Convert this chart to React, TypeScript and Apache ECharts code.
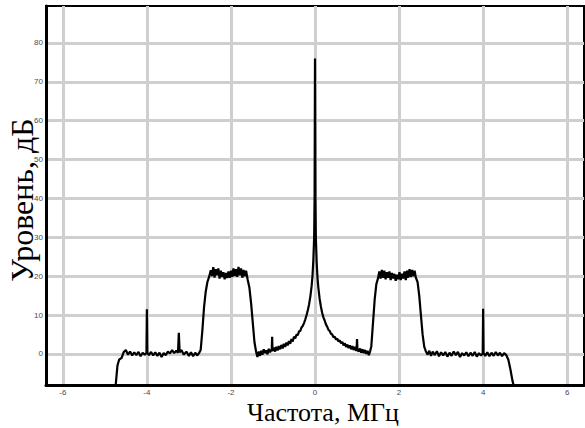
import React, { useEffect, useRef } from "react";
import * as echarts from "echarts";

// Spectrum segments: [frequency MHz, level dB]
const leftFloor: [number, number][] = [
  [-4.75, -9], [-4.7, -3], [-4.66, -1.5], [-4.6, -1], [-4.55, 0.5], [-4.5, 1], [-4.45, -0.2], [-4.4, 0.6],
  [-4.35, -0.4], [-4.3, 0.4], [-4.25, -0.3], [-4.2, 0.5], [-4.15, -0.6], [-4.1, 0.3], [-4.05, -0.2],
  [-4.01, 0.2], [-4.0, 11.5], [-3.99, 0.3], [-3.95, -0.3], [-3.9, 0.5], [-3.85, -0.4], [-3.8, 0.4],
  [-3.75, -0.5], [-3.7, 0.3], [-3.65, -0.8], [-3.6, 0.2], [-3.55, -0.3], [-3.5, 0.6], [-3.45, 0.1],
  [-3.4, 1.0], [-3.35, 0.2], [-3.3, 0.8], [-3.26, 0.3], [-3.24, 5.4], [-3.22, 0.4], [-3.18, 1.0],
  [-3.12, -0.2], [-3.06, 0.6], [-3.0, -0.5], [-2.95, 0.4], [-2.9, -0.6], [-2.85, 0.3], [-2.8, -0.4],
  [-2.76, 0.2], [-2.72, 1],
];

const leftBand: [number, number][] = [
  [-2.68, 6], [-2.64, 12], [-2.6, 16], [-2.56, 18.5], [-2.52, 19.8], [-2.48, 21.5], [-2.45, 20],
  [-2.42, 22.3], [-2.39, 19.6], [-2.36, 21.8], [-2.33, 20.2], [-2.3, 22], [-2.27, 19.4], [-2.24, 21.4],
  [-2.21, 19.8], [-2.18, 21], [-2.15, 19.2], [-2.12, 20.8], [-2.09, 19.5], [-2.06, 21.2], [-2.03, 19.6],
  [-2.0, 21.4], [-1.97, 19.8], [-1.94, 22], [-1.91, 20], [-1.88, 21.8], [-1.85, 19.8], [-1.82, 22.4],
  [-1.79, 20.2], [-1.76, 22], [-1.73, 19.6], [-1.7, 21.6], [-1.67, 20], [-1.64, 21.4], [-1.6, 19],
  [-1.56, 17], [-1.52, 13], [-1.48, 8], [-1.44, 3], [-1.4, 0.5],
];

const centerPeak: [number, number][] = [
  [-1.37, -0.8], [-1.34, 0.6], [-1.31, -0.5], [-1.28, 0.8], [-1.25, -0.2], [-1.22, 1.2], [-1.19, 0.2],
  [-1.16, 0.9], [-1.13, -0.1], [-1.1, 1.3], [-1.07, 0.4], [-1.04, 1.0], [-1.03, 0.6], [-1.02, 4.4],
  [-1.01, 0.8], [-0.98, 1.6], [-0.95, 0.6], [-0.92, 1.8], [-0.89, 0.9], [-0.86, 2.0], [-0.83, 1.2],
  [-0.8, 2.3], [-0.77, 1.4], [-0.74, 2.6], [-0.71, 1.8], [-0.68, 2.9], [-0.65, 2.2], [-0.62, 3.3],
  [-0.59, 2.6], [-0.56, 3.8], [-0.53, 3.2], [-0.5, 4.4], [-0.47, 4.0], [-0.44, 5.0], [-0.41, 4.8],
  [-0.38, 5.8], [-0.35, 5.9], [-0.32, 6.8], [-0.29, 7.2], [-0.26, 8.0], [-0.23, 8.9], [-0.2, 10],
  [-0.17, 11.3], [-0.14, 12.8], [-0.11, 14.8], [-0.08, 17.5], [-0.06, 20], [-0.04, 24], [-0.02, 30],
  [-0.01, 40], [0, 76], [0.01, 40], [0.02, 30], [0.04, 23.5], [0.06, 19.5], [0.08, 17], [0.11, 14.2],
  [0.14, 12.2], [0.17, 10.6], [0.2, 9.4], [0.23, 8.6], [0.26, 7.6], [0.29, 7.0], [0.32, 6.2], [0.35, 5.9],
  [0.38, 5.2], [0.41, 5.0], [0.44, 4.3], [0.47, 4.4], [0.5, 3.7], [0.53, 3.9], [0.56, 3.2], [0.59, 3.5],
  [0.62, 2.7], [0.65, 3.1], [0.68, 2.2], [0.71, 2.7], [0.74, 1.8], [0.77, 2.4], [0.8, 1.5], [0.83, 2.2],
  [0.86, 1.2], [0.89, 2.0], [0.92, 1.0], [0.95, 1.8], [0.98, 0.8], [0.99, 1.2], [1.0, 3.8], [1.01, 1.0],
  [1.04, 0.6], [1.07, 1.4], [1.1, 0.3], [1.13, 1.2], [1.16, 0.2], [1.19, 1.0], [1.22, 0.0], [1.25, 0.8],
  [1.28, -0.3], [1.31, 0.6],
];

const rightBand: [number, number][] = [
  [1.34, 2], [1.38, 8], [1.42, 14], [1.46, 18], [1.5, 19.5], [1.53, 21.2], [1.56, 19.4], [1.59, 21.6],
  [1.62, 19.6], [1.65, 21.4], [1.68, 19.2], [1.71, 21.0], [1.74, 19.6], [1.77, 21.2], [1.8, 19.0],
  [1.83, 20.8], [1.86, 19.4], [1.89, 20.6], [1.92, 18.8], [1.95, 20.4], [1.98, 19.2], [2.01, 21.0],
  [2.04, 19.0], [2.07, 20.6], [2.1, 19.4], [2.13, 21.2], [2.16, 19.0], [2.19, 21.4], [2.22, 19.6],
  [2.25, 21.8], [2.28, 19.8], [2.31, 21.6], [2.34, 20.0], [2.37, 21.4], [2.4, 19.6], [2.44, 18.5],
  [2.48, 15], [2.52, 10], [2.56, 5], [2.6, 1.8], [2.64, 0.6], [2.68, -0.2],
];

const rightFloor: [number, number][] = [
  [2.72, 0.8], [2.76, -0.5], [2.8, 0.6], [2.85, -0.3], [2.9, 0.7], [2.95, -0.6], [3.0, 0.4], [3.05, -0.4],
  [3.1, 0.5], [3.15, -0.7], [3.2, 0.3], [3.25, -0.5], [3.3, 0.6], [3.35, -0.3], [3.4, 0.5], [3.45, -0.8],
  [3.5, 0.2], [3.55, -0.4], [3.6, 0.4], [3.65, -0.6], [3.7, 0.3], [3.75, -0.5], [3.8, 0.5], [3.85, -0.7],
  [3.9, 0.2], [3.95, -0.4], [3.99, 0.1], [4.0, 11.6], [4.01, 0.2], [4.05, -0.5], [4.1, 0.4], [4.15, -0.6],
  [4.2, 0.3], [4.25, -0.5], [4.3, 0.5], [4.35, -0.4], [4.4, 0.3], [4.45, -0.6], [4.5, 0.2], [4.55, -0.3],
  [4.6, -1.5], [4.65, -4], [4.7, -7], [4.75, -9],
];

const xTickValues = [-6, -4, -2, 0, 2, 4, 6];
const yTickValues = [0, 10, 20, 30, 40, 50, 60, 70, 80];
const xTitle = "Частота, МГц";
const yTitle = "Уровень, дБ";

export default function App() {
  const ref = useRef<HTMLDivElement>(null);
  useEffect(() => {
    if (!ref.current) return;
    const chart = echarts.init(ref.current, undefined, { renderer: "svg" });
    const data = [...leftFloor, ...leftBand, ...centerPeak, ...rightBand, ...rightFloor];
    chart.setOption({
      animation: false,
      grid: {
        left: 46, right: 1, top: 6, bottom: 43,
        show: true, borderColor: "#000", borderWidth: 2, backgroundColor: "#fff",
      },
      xAxis: {
        type: "value", min: -6.4, max: 6.4,
        axisLine: { onZero: false, lineStyle: { color: "#000", width: 3 } },
        axisTick: { show: false, customValues: xTickValues },
        axisLabel: {
          color: "#4a4a55", fontSize: 8, fontFamily: "Arial", margin: 3,
          customValues: xTickValues,
        },
        splitLine: { show: true, lineStyle: { color: "#cfcfcf", width: 3 } },
      },
      yAxis: {
        type: "value", min: -8, max: 89.5,
        axisLine: { show: true, onZero: false, lineStyle: { color: "#000", width: 3 } },
        axisTick: { show: false, customValues: yTickValues },
        axisLabel: {
          color: "#4a4a55", fontSize: 8, fontFamily: "Arial", margin: 3,
          customValues: yTickValues,
        },
        splitLine: { show: true, lineStyle: { color: "#cfcfcf", width: 3 } },
      },
      graphic: [
        {
          type: "text", x: 323, y: 412,
          style: {
            text: xTitle, font: '26px "Liberation Serif"', fill: "#000",
            textAlign: "center", textVerticalAlign: "middle",
          },
        },
        {
          type: "text", x: 22, y: 200, rotation: Math.PI / 2,
          style: {
            text: yTitle, font: '32px "Liberation Serif"', fill: "#000",
            textAlign: "center", textVerticalAlign: "middle",
          },
        },
      ],
      series: [
        {
          type: "line", data, showSymbol: false, symbol: "none",
          lineStyle: { color: "#000", width: 2.2 }, clip: true,
        },
      ],
    });
    return () => chart.dispose();
  }, []);
  return <div ref={ref} style={{ width: 585, height: 428, position: "absolute", left: 0, top: 0 }} />;
}
